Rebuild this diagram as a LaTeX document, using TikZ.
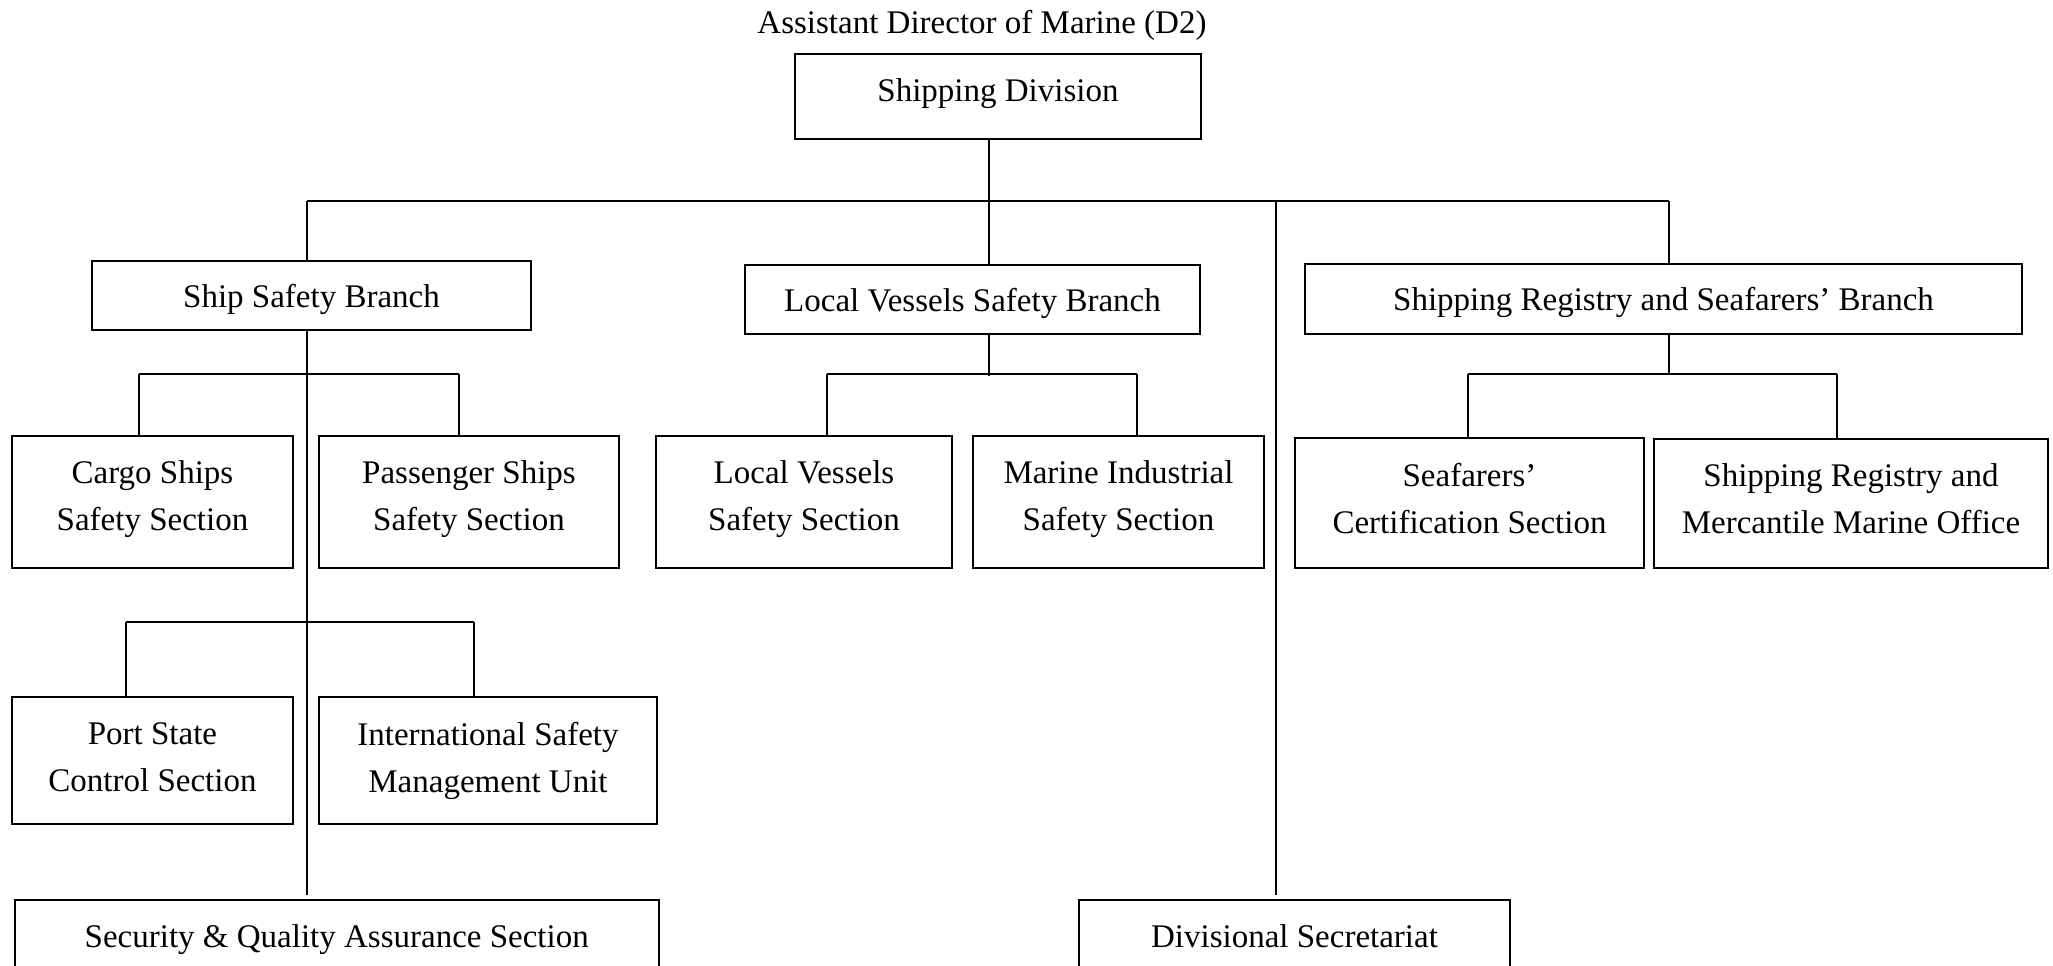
\documentclass[tikz,border=0pt]{standalone}
\usepackage{fontspec}
\setmainfont{Liberation Serif}
\begin{document}
\begin{tikzpicture}[x=1pt,y=-1pt,
  box/.style={draw, line width=2pt, inner sep=0pt, align=center,
    font=\fontsize{33}{47}\selectfont},
  conn/.style={line width=2pt}]
\useasboundingbox (0,0) rectangle (2053,966);
\begin{scope}
\clip (0,0) rectangle (2053,966);
\node[font=\fontsize{33}{47}\selectfont, anchor=base] (title) at (982,34) {Assistant Director of Marine (D2)};
\node[box, minimum width=406pt, minimum height=85pt, text depth=13pt] (div) at (998,96.5) {Shipping Division};
\node[box, minimum width=439pt, minimum height=69pt, text depth=0pt] (ssb) at (311.5,295.5) {Ship Safety Branch};
\node[box, minimum width=455pt, minimum height=69pt, text depth=0pt] (lvsb) at (972.5,299.5) {Local Vessels Safety Branch};
\node[box, minimum width=717pt, minimum height=70pt, text depth=0pt] (srsb) at (1663.5,299) {Shipping Registry and Seafarers’ Branch};
\node[box, minimum width=281pt, minimum height=132pt, text depth=12pt] (cargo) at (152.5,501.5) {Cargo Ships\\Safety Section};
\node[box, minimum width=300pt, minimum height=132pt, text depth=12pt] (pass) at (469,501.5) {Passenger Ships\\Safety Section};
\node[box, minimum width=296pt, minimum height=132pt, text depth=12pt] (lvs) at (804,501.5) {Local Vessels\\Safety Section};
\node[box, minimum width=291pt, minimum height=132pt, text depth=12pt] (mis) at (1118.5,501.5) {Marine Industrial\\Safety Section};
\node[box, minimum width=349pt, minimum height=129.5pt, text depth=8pt] (sea) at (1469.5,502.75) {Seafarers’\\Certification Section};
\node[box, minimum width=394pt, minimum height=128.5pt, text depth=10pt] (smmo) at (1851,503.25) {Shipping Registry and\\Mercantile Marine Office};
\node[box, minimum width=281pt, minimum height=127pt, text depth=6pt] (psc) at (152.5,760.5) {Port State\\Control Section};
\node[box, minimum width=338pt, minimum height=127pt] (ism) at (488,760.5) {International Safety\\Management Unit};
\node[box, minimum width=644.5pt, minimum height=72pt, text depth=0pt] (sqa) at (336.75,936) {Security \& Quality Assurance Section};
\node[box, minimum width=431pt, minimum height=72pt] (ds) at (1294.5,936) {Divisional Secretariat};

% top bus
\coordinate (b1L) at (307,201);
\coordinate (b1R) at (1669,201);
\coordinate (t1) at (989,201);
\coordinate (b1D) at (1275.6,201);
\draw[conn] (b1L) -- (b1R);
\draw[conn] (div.south -| t1) -- (lvsb.north -| t1);
\draw[conn] (b1L) -- (b1L |- ssb.north);
\draw[conn] (b1R) -- (b1R |- srsb.north);
\draw[conn, shorten >=4pt] (b1D) -- (b1D |- ds.north);
\draw[conn, shorten >=4pt] (ssb.south -| b1L) -- (sqa.north -| b1L);

% ship safety sub-bus 1
\coordinate (b2aL) at (139.3,374);
\coordinate (b2aR) at (458.5,374);
\draw[conn] (b2aL) -- (b2aR);
\draw[conn] (b2aL) -- (b2aL |- cargo.north);
\draw[conn] (b2aR) -- (b2aR |- pass.north);

% local vessels sub-bus
\coordinate (b2bL) at (827,374);
\coordinate (b2bR) at (1136.6,374);
\coordinate (b2bT) at (989,376);
\draw[conn] (b2bL) -- (b2bR);
\draw[conn] (lvsb.south -| b2bT) -- (b2bT);
\draw[conn] (b2bL) -- (b2bL |- lvs.north);
\draw[conn] (b2bR) -- (b2bR |- mis.north);

% registry sub-bus
\coordinate (b2cL) at (1468,374);
\coordinate (b2cR) at (1837,374);
\coordinate (b2cT) at (1669,374);
\draw[conn] (b2cL) -- (b2cR);
\draw[conn] (srsb.south -| b2cT) -- (b2cT);
\draw[conn] (b2cL) -- (b2cL |- sea.north);
\draw[conn] (b2cR) -- (b2cR |- smmo.north);

% ship safety sub-bus 2
\coordinate (b3L) at (125.5,622);
\coordinate (b3R) at (474.3,622);
\draw[conn] (b3L) -- (b3R);
\draw[conn] (b3L) -- (b3L |- psc.north);
\draw[conn] (b3R) -- (b3R |- ism.north);
\end{scope}
\end{tikzpicture}
\end{document}
